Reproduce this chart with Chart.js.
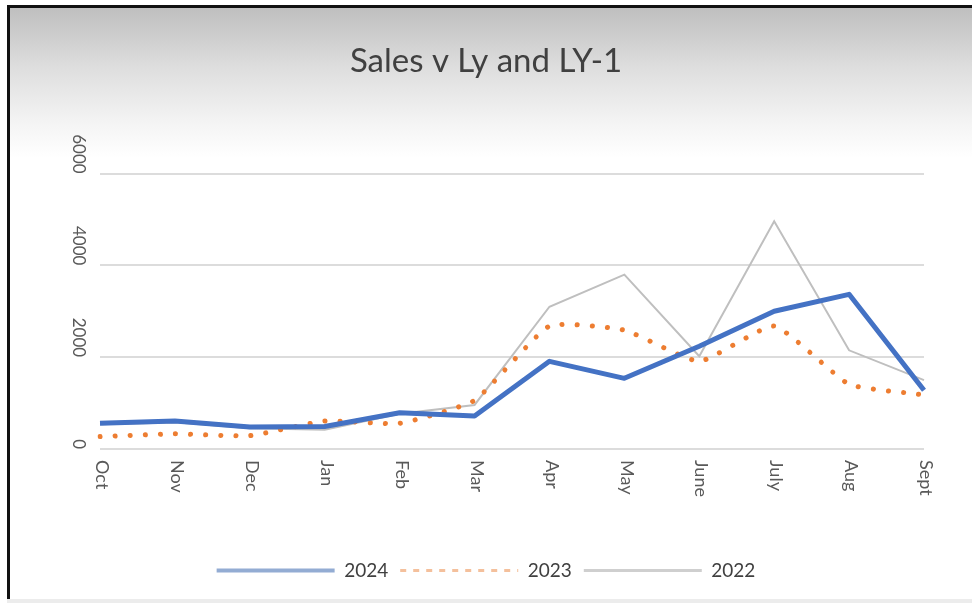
<!DOCTYPE html>
<html>
<head>
    <title>Sales v Ly and LY-1</title>
    <script src="https://cdn.jsdelivr.net/npm/chart.js"></script>
    <style>
        body {
            margin: 0;
            background-color: #ffffff;
            font-family: Lato, "Open Sans", Arial, sans-serif;
        }
        .frame {
            position: absolute;
            left: 7px;
            top: 5px;
            width: 965px;
            height: 594px;
            border-left: 3px solid #111;
            border-top: 3px solid #111;
            background: linear-gradient(to bottom, #bfbfbf 0px, #dedede 60px, #f4f4f4 115px, #ffffff 150px);
        }
        .bottom-strip {
            position: absolute;
            left: 7px;
            top: 599px;
            width: 965px;
            height: 4px;
            background-color: #ececec;
        }
        #salesChart {
            position: absolute;
            left: 0;
            top: 0;
        }
    </style>
</head>
<body>
    <div class="frame"></div>
    <div class="bottom-strip"></div>
    <canvas id="salesChart" width="972" height="603"></canvas>

    <script>
        // Values
        const months = ['Oct', 'Nov', 'Dec', 'Jan', 'Feb', 'Mar', 'Apr', 'May', 'June', 'July', 'Aug', 'Sept'];
        const sales2024 = [560, 610, 480, 490, 790, 720, 1910, 1540, 2240, 3000, 3370, 1280];
        const sales2023 = [270, 330, 290, 610, 560, 1060, 2680, 2590, 1910, 2680, 1410, 1180];
        const sales2022 = [540, 580, 450, 420, 770, 960, 3100, 3800, 2020, 4960, 2150, 1500];
        const yTicks = [0, 2000, 4000, 6000];

        const fontFamily = "Lato, 'Open Sans', Arial, sans-serif";
        const legendColors = ['#93acd3', '#f4c09c', '#cfcfcf'];

        // month labels run top-to-bottom under the axis, so draw them ourselves
        const monthLabels = {
            id: 'monthLabels',
            afterDraw(chart) {
                const ctx = chart.ctx;
                const xScale = chart.scales.x;
                const top = chart.chartArea.bottom + 11;
                ctx.save();
                ctx.font = '18px ' + fontFamily;
                ctx.fillStyle = '#595959';
                ctx.textAlign = 'left';
                ctx.textBaseline = 'middle';
                months.forEach((m, i) => {
                    const x = xScale.getPixelForValue(i) + 2;
                    ctx.save();
                    ctx.translate(x, top);
                    ctx.rotate(Math.PI / 2);
                    ctx.fillText(m, 0, 0);
                    ctx.restore();
                });
                ctx.restore();
            }
        };

        const ctx = document.getElementById('salesChart').getContext('2d');

        new Chart(ctx, {
            type: 'line',
            data: {
                labels: months,
                datasets: [
                    {
                        label: '2024',
                        data: sales2024,
                        borderColor: '#4472C4',
                        backgroundColor: '#4472C4',
                        borderWidth: 5,
                        borderJoinStyle: 'round',
                        pointRadius: 0,
                        tension: 0
                    },
                    {
                        label: '2023',
                        data: sales2023,
                        borderColor: '#ED7D31',
                        backgroundColor: '#ED7D31',
                        borderWidth: 5,
                        borderDash: [0.1, 15],
                        borderCapStyle: 'round',
                        pointRadius: 0,
                        tension: 0.15
                    },
                    {
                        label: '2022',
                        data: sales2022,
                        borderColor: '#BFBFBF',
                        backgroundColor: '#BFBFBF',
                        borderWidth: 2,
                        pointRadius: 0,
                        tension: 0
                    }
                ]
            },
            options: {
                responsive: false,
                animation: false,
                layout: {
                    padding: { left: 0, right: 0, top: 0, bottom: 13 }
                },
                plugins: {
                    title: {
                        display: true,
                        text: 'Sales v Ly and LY-1',
                        color: '#404040',
                        font: { family: fontFamily, size: 33, weight: 'normal' },
                        padding: { top: 42, bottom: 92 }
                    },
                    legend: {
                        position: 'bottom',
                        labels: {
                            usePointStyle: true,
                            pointStyle: 'line',
                            pointStyleWidth: 118,
                            padding: 12,
                            color: '#404040',
                            font: { family: fontFamily, size: 19 },
                            generateLabels(chart) {
                                const items = Chart.defaults.plugins.legend.labels.generateLabels(chart);
                                items.forEach((item, i) => {
                                    item.strokeStyle = legendColors[i];
                                    item.fillStyle = legendColors[i];
                                    item.lineWidth = i === 0 ? 4 : 3;
                                    item.lineDash = i === 1 ? [6, 7] : [];
                                    item.lineCap = 'butt';
                                    item.pointStyle = 'line';
                                });
                                return items;
                            }
                        }
                    },
                    tooltip: { enabled: false }
                },
                scales: {
                    x: {
                        offset: false,
                        grid: { display: false },
                        border: { display: false },
                        ticks: { display: false },
                        afterFit(scale) {
                            scale.height = 100;
                        }
                    },
                    y: {
                        min: 0,
                        max: 6000,
                        border: { display: false },
                        grid: {
                            color: '#dcdcdc',
                            lineWidth: 2,
                            drawTicks: false
                        },
                        ticks: {
                            color: '#595959',
                            font: { family: fontFamily, size: 17 },
                            padding: 22,
                            minRotation: -90,
                            maxRotation: -90,
                            callback: value => String(value)
                        },
                        afterBuildTicks(scale) {
                            scale.ticks = yTicks.map(v => ({ value: v }));
                        },
                        afterFit(scale) {
                            scale.width = 100;
                        }
                    },
                    // empty right-hand strip so the title and legend centre on the whole frame
                    yRight: {
                        position: 'right',
                        min: 0,
                        max: 6000,
                        grid: { display: false },
                        border: { display: false },
                        ticks: { display: false },
                        afterFit(scale) {
                            scale.width = 48;
                        }
                    }
                }
            },
            plugins: [monthLabels]
        });
    </script>
</body>
</html>
